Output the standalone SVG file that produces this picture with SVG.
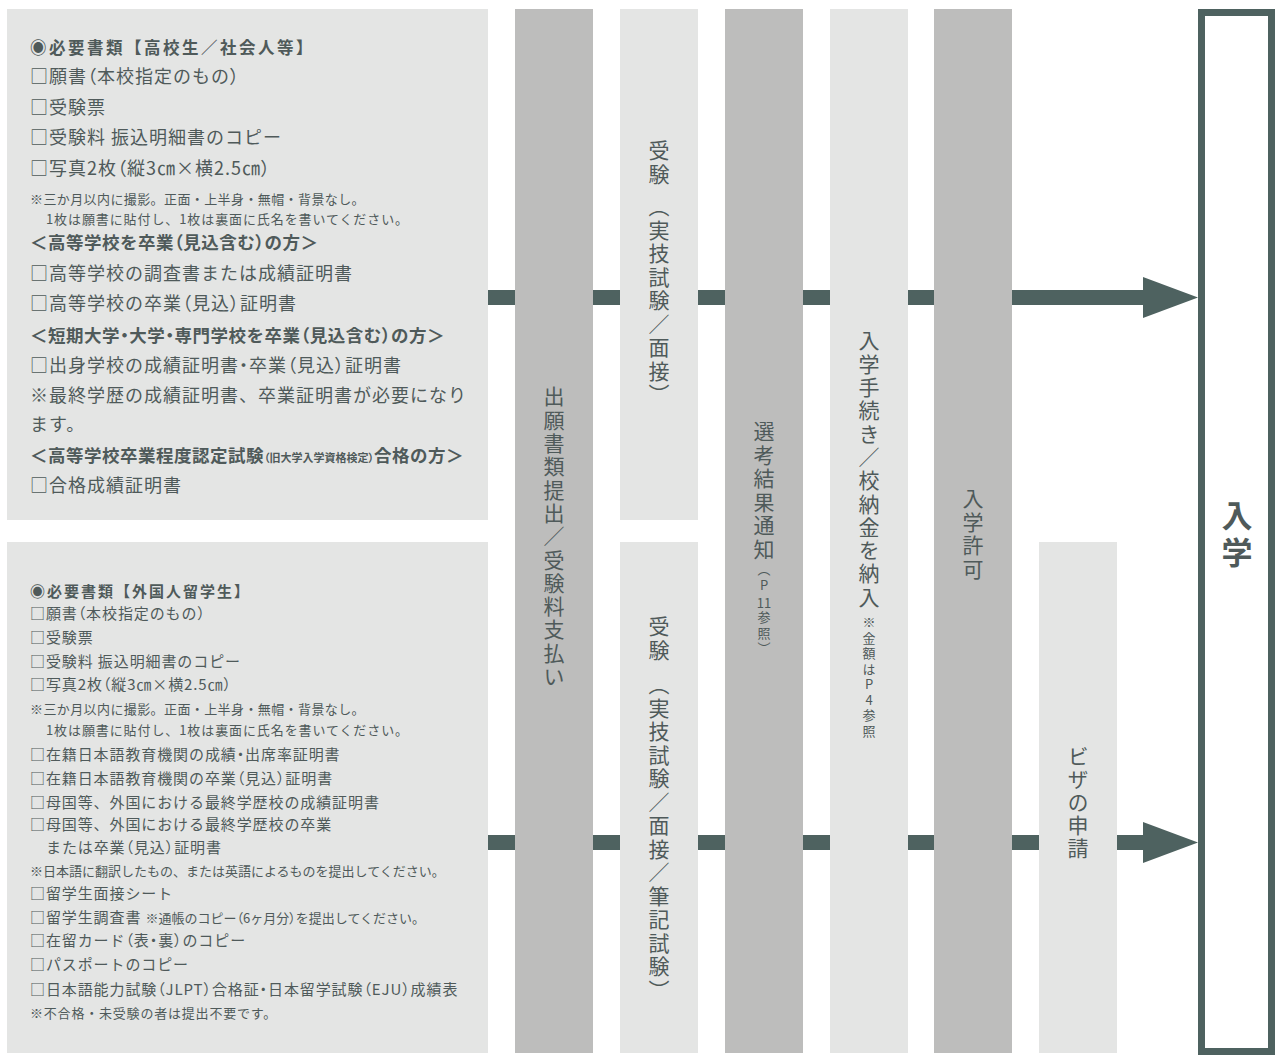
<svg xmlns="http://www.w3.org/2000/svg" width="1275" height="1055" viewBox="0 0 1275 1055">
<style>
.bg{fill:#ffffff}
.lt{fill:#e4e5e4}
.dk{fill:#bdbdbc}
.t{font-family:"Noto Sans CJK JP","Noto Sans",sans-serif;fill:#4f5a5a}
.p{font-feature-settings:"palt"}
.r18{font-size:18px;letter-spacing:1px}
.b18{font-size:17.5px;letter-spacing:0.5px;font-weight:bold}
.h17{font-size:16.5px;letter-spacing:2.5px;font-weight:bold}
.s13{font-size:13px}
.r15{font-size:15px;letter-spacing:0.9px}
.h15{font-size:15px;letter-spacing:2px;font-weight:bold}
.v{writing-mode:vertical-rl;font-size:21px;letter-spacing:2.5px}
.vs{writing-mode:vertical-rl;font-size:13px;letter-spacing:2.5px}
.bar{fill:#4e6260}
</style>
<rect class="bg" x="0" y="0" width="1275" height="1055"/>

<g id="connectors">
  <rect class="bar" x="488" y="290" width="656" height="15"/>
  <polygon class="bar" points="1143,277 1198,297.5 1143,318"/>
  <rect class="bar" x="488" y="835" width="656" height="15"/>
  <polygon class="bar" points="1143,822 1198,842.5 1143,863"/>
</g>

<g id="docs-highschool">
  <rect class="lt" x="7" y="9" width="481" height="511"/>
  <text class="t h17" x="30" y="54">◉必要書類【高校生／社会人等】</text>
  <text class="t r18" x="30" y="83">□願書<tspan class="p">（</tspan>本校指定のもの<tspan class="p">）</tspan></text>
  <text class="t r18" x="30" y="114">□受験票</text>
  <text class="t r18" x="30" y="144">□受験料 振込明細書のコピー</text>
  <text class="t r18" x="30" y="175">□写真2枚<tspan class="p">（</tspan>縦3㎝×横2.5㎝<tspan class="p">）</tspan></text>
  <text class="t s13" x="30" y="204" style="letter-spacing:0.4px">※三か月以内に撮影。正面・上半身・無帽・背景なし。</text>
  <text class="t s13" x="46" y="224" style="letter-spacing:0.9px">1枚は願書に貼付し、1枚は裏面に氏名を書いてください。</text>
  <text class="t b18" x="30" y="249">＜高等学校を卒業<tspan class="p">（</tspan>見込含む<tspan class="p">）</tspan>の方＞</text>
  <text class="t r18" x="30" y="280">□高等学校の調査書または成績証明書</text>
  <text class="t r18" x="30" y="310">□高等学校の卒業<tspan class="p">（</tspan>見込<tspan class="p">）</tspan>証明書</text>
  <text class="t b18" x="30" y="342">＜短期大学<tspan class="p">・</tspan>大学<tspan class="p">・</tspan>専門学校を卒業<tspan class="p">（</tspan>見込含む<tspan class="p">）</tspan>の方＞</text>
  <text class="t r18" x="30" y="372">□出身学校の成績証明書<tspan class="p">・</tspan>卒業<tspan class="p">（</tspan>見込<tspan class="p">）</tspan>証明書</text>
  <text class="t r18" x="30" y="402">※最終学歴の成績証明書、卒業証明書が必要になり</text>
  <text class="t r18" x="30" y="431">ます。</text>
  <text class="t b18" x="30" y="462">＜高等学校卒業程度認定試験<tspan class="p" font-size="11" letter-spacing="0">（旧大学入学資格検定）</tspan>合格の方＞</text>
  <text class="t r18" x="30" y="492">□合格成績証明書</text>
</g>

<g id="docs-international">
  <rect class="lt" x="7" y="542" width="481" height="511"/>
  <text class="t h15" x="30" y="597">◉必要書類【外国人留学生】</text>
  <text class="t r15" x="30" y="619">□願書<tspan class="p">（</tspan>本校指定のもの<tspan class="p">）</tspan></text>
  <text class="t r15" x="30" y="643">□受験票</text>
  <text class="t r15" x="30" y="667">□受験料 振込明細書のコピー</text>
  <text class="t r15" x="30" y="690">□写真2枚<tspan class="p">（</tspan>縦3㎝×横2.5㎝<tspan class="p">）</tspan></text>
  <text class="t s13" x="30" y="714" style="letter-spacing:0.4px">※三か月以内に撮影。正面・上半身・無帽・背景なし。</text>
  <text class="t s13" x="46" y="735" style="letter-spacing:0.9px">1枚は願書に貼付し、1枚は裏面に氏名を書いてください。</text>
  <text class="t r15" x="30" y="760">□在籍日本語教育機関の成績<tspan class="p">・</tspan>出席率証明書</text>
  <text class="t r15" x="30" y="784">□在籍日本語教育機関の卒業<tspan class="p">（</tspan>見込<tspan class="p">）</tspan>証明書</text>
  <text class="t r15" x="30" y="808">□母国等、外国における最終学歴校の成績証明書</text>
  <text class="t r15" x="30" y="830">□母国等、外国における最終学歴校の卒業</text>
  <text class="t r15" x="46" y="853">または卒業<tspan class="p">（</tspan>見込<tspan class="p">）</tspan>証明書</text>
  <text class="t s13" x="30" y="876">※日本語に翻訳したもの、または英語によるものを提出してください。</text>
  <text class="t r15" x="30" y="899">□留学生面接シート</text>
  <text class="t r15" x="30" y="923">□留学生調査書 <tspan font-size="13" letter-spacing="0">※通帳のコピー<tspan class="p">（</tspan>6ヶ月分<tspan class="p">）</tspan>を提出してください。</tspan></text>
  <text class="t r15" x="30" y="946">□在留カード<tspan class="p">（</tspan>表<tspan class="p">・</tspan>裏<tspan class="p">）</tspan>のコピー</text>
  <text class="t r15" x="30" y="970">□パスポートのコピー</text>
  <text class="t r15" x="30" y="995">□日本語能力試験<tspan class="p">（</tspan>JLPT<tspan class="p">）</tspan>合格証<tspan class="p">・</tspan>日本留学試験<tspan class="p">（</tspan>EJU<tspan class="p">）</tspan>成績表</text>
  <text class="t s13" x="30" y="1018" style="letter-spacing:0.8px">※不合格・未受験の者は提出不要です。</text>
</g>

<g id="step-application">
  <rect class="dk" x="515" y="9" width="78" height="1044"/>
  <text class="t v" x="554" y="386" style="letter-spacing:2.3px">出願書類提出／受験料支払い</text>
</g>

<g id="step-exam-1">
  <rect class="lt" x="620" y="9" width="78" height="511"/>
  <text class="t v" x="659" y="140">受験</text>
  <text class="t v" x="659" y="196">（実技試験／面接）</text>
</g>

<g id="step-exam-2">
  <rect class="lt" x="620" y="542" width="78" height="511"/>
  <text class="t v" x="659" y="616">受験</text>
  <text class="t v" x="659" y="674">（実技試験／面接／筆記試験）</text>
</g>

<g id="step-result">
  <rect class="dk" x="725" y="9" width="78" height="1044"/>
  <text class="t v" x="764" y="421">選考結果通知</text>
  <text class="t vs" x="764" y="563" style="text-orientation:upright">（P</text>
  <text class="t" x="764" y="608" font-size="13" text-anchor="middle">11</text>
  <text class="t vs" x="764" y="611">参照）</text>
</g>

<g id="step-procedure">
  <rect class="lt" x="830" y="9" width="78" height="1044"/>
  <text class="t v" x="869" y="330" style="letter-spacing:2.3px">入学手続き／校納金を納入</text>
  <text class="t vs" x="869" y="616" style="text-orientation:upright">※金額はP4参照</text>
</g>

<g id="step-admission">
  <rect class="dk" x="934" y="9" width="78" height="1044"/>
  <text class="t v" x="973" y="488">入学許可</text>
</g>

<g id="step-visa">
  <rect class="lt" x="1039" y="542" width="78" height="511"/>
  <text class="t v" x="1078" y="746" style="letter-spacing:2px">ビザの申請</text>
</g>

<g id="enrollment">
  <rect x="1201.5" y="12.5" width="70" height="1039" fill="#ffffff" stroke="#4e6260" stroke-width="7"/>
  <text class="t" x="1237" y="500" style="writing-mode:vertical-rl;font-size:31px;font-weight:bold;letter-spacing:6px">入学</text>
</g>
</svg>
